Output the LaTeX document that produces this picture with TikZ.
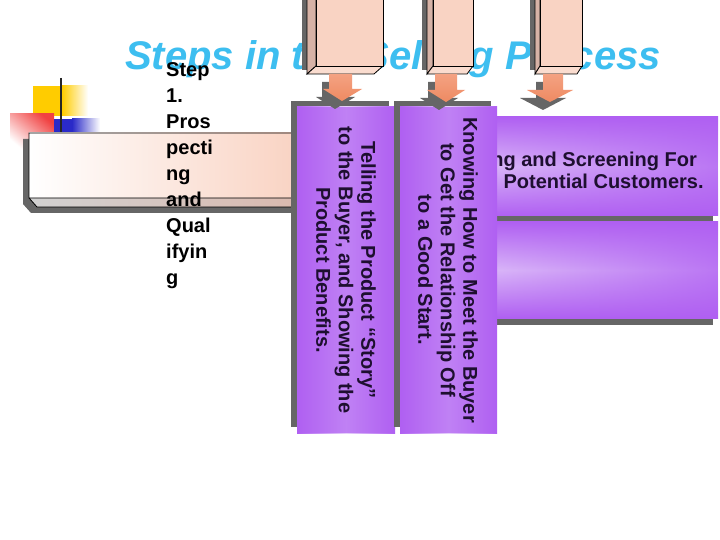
\documentclass[tikz,border=0pt]{standalone}
\usepackage{fontspec}
\setmainfont{Liberation Sans}
\usetikzlibrary{fadings}
\definecolor{ttl}{HTML}{3DBEF0}
\definecolor{yel}{HTML}{FFCC00}
\definecolor{redc}{HTML}{EE2020}
\definecolor{bluc}{HTML}{2A2AC8}
\definecolor{shd}{HTML}{666666}
\definecolor{peach}{HTML}{F9D3C3}
\definecolor{peachlt}{HTML}{FADCCF}
\definecolor{peachside}{HTML}{D6B2A6}
\definecolor{arrtop}{HTML}{F4A282}
\definecolor{arrbot}{HTML}{EE8A62}
\definecolor{purp}{HTML}{B060F2}
\definecolor{lav}{HTML}{E6D0FA}
\definecolor{txtd}{HTML}{1E0F30}
\tikzfading[name=fadeR, left color=transparent!100, middle color=transparent!100, right color=transparent!0]
\tikzfading[name=fadeEnds, top color=transparent!0, middle color=transparent!100, bottom color=transparent!0]
\newcommand{\topblock}[3]{%
  \fill[shd] ({#1-#3-5},-1) rectangle ({#1-#3},70);
  \filldraw[fill=peachside, draw=black, line width=0.8pt] ({#1-#3},-1) -- (#1,-1) -- (#1,66) -- ({#1-#3},74) -- cycle;
  \filldraw[fill=peachlt, draw=black, line width=0.8pt] ({#1-#3},74) -- (#1,66) -- (#2,66) -- ({#2-#3},74) -- cycle;
  \filldraw[fill=peach, draw=black, line width=0.8pt] (#1,-1) rectangle (#2,66);
}
\newcommand{\blockarrow}[7]{%
  \fill[shd, shift={(-7,8)}] (#1,74) -- (#2,74) -- (#2,#6) -- (#4,#6) -- (#5,#7) -- (#3,#6) -- (#1,#6) -- cycle;
  \shade[top color=arrtop, bottom color=arrbot] (#1,74) -- (#2,74) -- (#2,#6) -- (#4,#6) -- (#5,#7) -- (#3,#6) -- (#1,#6) -- cycle;
}
\tikzset{
  vtext/.style={rotate=-90, align=center, text=txtd, font=\fontsize{20}{22.5}\selectfont\bfseries},
  htext/.style={align=center, text=txtd, font=\fontsize{20}{22}\selectfont\bfseries},
}
\begin{document}
\begin{tikzpicture}[x=1pt,y=-1pt]
\useasboundingbox (0,0) rectangle (720,540);
\fill[white] (0,0) rectangle (720,540);
% decorative squares
\fill[yel] (33,86) rectangle (62,116);
\shade[left color=yel, right color=white] (62,86) rectangle (88,116);
\shade[top color=redc!85, bottom color=white, shading angle=-40] (10,114) rectangle (54,150);
\fill[bluc] (54,119) rectangle (72,133);
\shade[left color=bluc, right color=white] (72,119) rectangle (100,133);
\draw[line width=2.6pt, black!85] (61,78) -- (61,133);
% title
\node[anchor=base, text=ttl, font=\fontsize{40}{44}\selectfont\bfseries\itshape, inner sep=0] (title) at (393,70) {Steps in the Selling Process};
% top blocks
\topblock{316}{383}{9}
\topblock{433}{473}{6}
\topblock{540}{582}{5}
% left horizontal box
\fill[shd] (23,139) rectangle (291,204) (23,204) -- (31,213) -- (291,213) -- (291,204) -- cycle;
\shade[left color=white, right color=peach] (29,133) rectangle (297,198);
\shade[left color=black!18, right color=peachside!90] (29,198) -- (37,207) -- (297,207) -- (297,198) -- cycle;
\draw[line width=0.8pt] (297,133) -- (29,133) -- (29,198) -- (297,198) (29,198) -- (37,207) -- (297,207);
% step text
\node[anchor=north west, align=left, inner sep=0, font=\fontsize{20}{26}\selectfont\bfseries] (step) at (166,62.5) {Step\\1.\\Pros\\pecti\\ng\\and\\Qual\\ifyin\\g};
% right horizontal boxes
\fill[shd] (393,122) rectangle (713,222);
\shade[top color=purp, bottom color=purp, middle color=lav] (398,117) rectangle (718,216);
\fill[purp, path fading=fadeR, fill opacity=0.8] (398,117) rectangle (718,216);
\node[htext] (search) at (558,172) {Searching and Screening For\\Qualified Potential Customers.};
\fill[shd] (393,228) rectangle (713,325);
\shade[top color=purp, bottom color=purp, middle color=lav] (398,222) rectangle (718,318);
\fill[purp, path fading=fadeR, fill opacity=0.8] (398,222) rectangle (718,318);
% vertical boxes
\fill[shd] (291,101) rectangle (389,427);
\shade[left color=purp, right color=purp, middle color=lav] (297,107) rectangle (395,433);
\fill[purp, path fading=fadeEnds, fill opacity=0.7] (297,107) rectangle (395,433);
\node[vtext] (tell) at (346,270) {Telling the Product “Story”\\to the Buyer, and Showing the\\Product Benefits.};
\fill[shd] (394,101) rectangle (491,427);
\shade[left color=purp, right color=purp, middle color=lav] (400,107) rectangle (497,433);
\fill[purp, path fading=fadeEnds, fill opacity=0.7] (400,107) rectangle (497,433);
\node[vtext] (know) at (448,270) {Knowing How to Meet the Buyer\\to Get the Relationship Off\\to a Good Start.};
% arrows
\blockarrow{329}{352}{323}{362}{342}{89}{101}
\blockarrow{435}{457}{427}{465}{446}{90}{102}
\blockarrow{543}{563}{527}{573}{550}{90}{102}
\end{tikzpicture}
\end{document}
